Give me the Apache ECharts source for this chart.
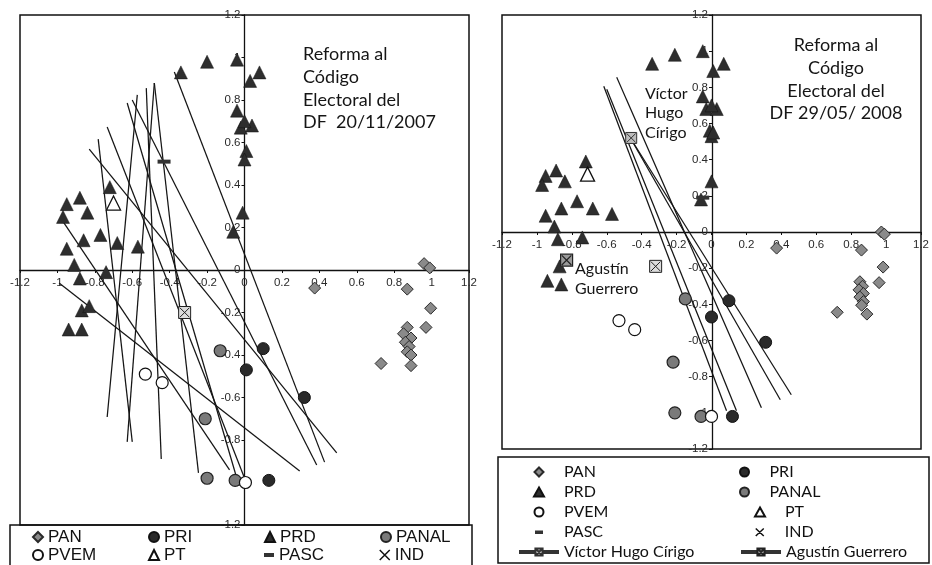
<!DOCTYPE html>
<html><head><meta charset="utf-8">
<script src="https://cdn.jsdelivr.net/npm/echarts@6/dist/echarts.min.js"></script>
<style>html,body{margin:0;padding:0;background:#fff}#c{width:932px;height:565px}</style>
</head><body><div id="c"></div>
<script>
// ---------- DATA: 20/11/2007 (left panel) ----------
const pan2007 = [[0.96,0.03],[0.99,0.01],[0.375,-0.085],[0.87,-0.09],[0.995,-0.18],[0.97,-0.27],[0.87,-0.27],[0.85,-0.30],[0.89,-0.32],[0.86,-0.34],[0.88,-0.36],[0.87,-0.385],[0.89,-0.40],[0.73,-0.44],[0.89,-0.45]];
const pri2007 = [[0.10,-0.37],[0.01,-0.47],[0.32,-0.60],[0.13,-0.99]];
const prd2007 = [[-0.34,0.93],[-0.20,0.98],[-0.04,0.99],[0.03,0.89],[0.08,0.93],[-0.04,0.75],[-0.02,0.67],[0.04,0.68],[0.0,0.70],[0.01,0.56],[0.0,0.52],[-0.01,0.27],[-0.06,0.18],[-0.95,0.31],[-0.88,0.34],[-0.84,0.27],[-0.97,0.25],[-0.72,0.39],[-0.95,0.10],[-0.86,0.14],[-0.77,0.165],[-0.68,0.127],[-0.57,0.11],[-0.91,0.024],[-0.88,-0.04],[-0.74,-0.01],[-0.87,-0.19],[-0.83,-0.17],[-0.94,-0.28],[-0.87,-0.28]];
const panal2007 = [[-0.13,-0.38],[-0.21,-0.70],[-0.20,-0.98],[-0.05,-0.99]];
const pvem2007 = [[-0.53,-0.49],[-0.44,-0.53],[0.005,-1.0]];
const pt2007 = [[-0.70,0.315]];
const pasc2007 = [[-0.43,0.51]];
const ind2007 = [[-0.32,-0.20]];
// cutting lines: [x1, y1, x2, y2]
const lines2007 = [
  [-0.375,0.932, 0.428,-0.904],
  [-0.600,0.800, 0.386,-0.918],
  [-0.627,0.786, -0.043,-0.974],
  [-0.830,0.569, 0.493,-0.861],
  [-0.734,0.673, 0.0,-0.979],
  [-0.482,0.880, -0.246,-0.955],
  [-0.525,0.856, -0.445,-0.889],
  [-0.782,0.616, -0.600,-0.809],
  [-0.734,-0.692, -0.573,0.824],
  [-0.627,-0.809, -0.482,0.880],
  [-0.991,-0.061, 0.295,-0.946],
  [-0.975,0.235, -0.080,-0.941]
];

// ---------- DATA: 29/05/2008 (right panel) ----------
const pan2008 = [[0.973,0.0],[0.99,-0.012],[0.373,-0.089],[0.859,-0.10],[0.983,-0.194],[0.96,-0.28],[0.85,-0.275],[0.865,-0.30],[0.845,-0.32],[0.87,-0.34],[0.85,-0.36],[0.87,-0.385],[0.86,-0.405],[0.72,-0.444],[0.89,-0.454]];
const pri2008 = [[0.10,-0.38],[0.0,-0.47],[0.31,-0.61],[0.12,-1.02]];
const prd2008 = [[-0.34,0.93],[-0.21,0.98],[-0.05,1.0],[0.07,0.93],[0.01,0.89],[-0.05,0.75],[-0.03,0.68],[0.03,0.68],[0.0,0.70],[-0.01,0.56],[0.0,0.53],[0.01,0.55],[0.0,0.28],[-0.06,0.18],[-0.72,0.39],[-0.89,0.34],[-0.95,0.31],[-0.97,0.26],[-0.84,0.28],[-0.77,0.17],[-0.86,0.13],[-0.68,0.13],[-0.95,0.09],[-0.57,0.10],[-0.90,0.03],[-0.88,-0.04],[-0.74,-0.03],[-0.87,-0.19],[-0.94,-0.27],[-0.86,-0.29]];
const panal2008 = [[-0.15,-0.37],[-0.22,-0.72],[-0.21,-1.0],[-0.06,-1.02]];
const pvem2008 = [[-0.53,-0.49],[-0.44,-0.54],[0.0,-1.02]];
const pt2008 = [[-0.71,0.32]];
const pasc2008 = [[-0.05,0.19]];
const ind2008 = [[-0.32,-0.19]];
const victor2008 = [[-0.46,0.52]];
const agustin2008 = [[-0.83,-0.156]];
const lines2008 = [
  [-0.617,0.806, 0.086,-0.989],
  [-0.600,0.789, 0.143,-0.989],
  [-0.543,0.856, 0.286,-0.972],
  [-0.463,0.517, 0.394,-0.928],
  [-0.463,0.517, 0.457,-0.900]
];

// ---------- labels ----------
const partyNames = ['PAN','PRI','PRD','PANAL','PVEM','PT','PASC','IND'];
const legislators = ['Víctor Hugo Círigo','Agustín Guerrero'];
const titleLeft = 'Reforma al\nCódigo\nElectoral del\nDF  20/11/2007';
const titleRight = 'Reforma al\nCódigo\nElectoral del\nDF 29/05/ 2008';
const labelVictor = 'Víctor\nHugo\nCírigo';
const labelAgustin = 'Agustín\nGuerrero';

// ---------- styles ----------
const XBOX = 'path://M0,0H10V10H0ZM1,1L9,9M9,1L1,9';
const XICON = 'path://M0,0L10,10M10,0L0,10';
const DASHICON = 'path://M0,0L0.01,0.01ZM0,3H10V7H0ZM10,10L9.99,9.99Z';
// wide-box legend icons (40 x 9 box, glyph centred) for the right legend
const PAD = 'M0,0L0.01,0.01ZM40,9L39.99,8.99Z';
const R_ICON = {
  PAN: 'path://' + PAD + 'M20,0L24.5,4.5L20,9L15.5,4.5Z',
  PRD: 'path://' + PAD + 'M20,0L25,9L15,9Z',
  PT:  'path://' + PAD + 'M20,0L25,9L15,9Z',
  PASC:'path://' + PAD + 'M16,3H24V6.5H16Z',
  IND: 'path://' + PAD + 'M16,1L24,8.5M24,1L16,8.5'
};
const sty = {
  PAN:   {symbol:'diamond',  size:12, color:'#8a8a8a', border:'#2a2a2a', bw:1},
  PRI:   {symbol:'circle',   size:12, color:'#2a2a2a', border:'#111', bw:1},
  PRD:   {symbol:'triangle', size:13, color:'#2e2e2e', border:'#111', bw:0.5},
  PANAL: {symbol:'circle',   size:12, color:'#7a7a7a', border:'#222', bw:1.2},
  PVEM:  {symbol:'circle',   size:12, color:'#ffffff', border:'#111', bw:1.2},
  PT:    {symbol:'triangle', size:14, color:'#ffffff', border:'#111', bw:1.3},
  PASC:  {symbol:'rect',     size:[13,4], color:'#333', border:'#333', bw:0},
  IND:   {symbol:XBOX,       size:12, color:'#dcdcdc', border:'#222', bw:1}
};

function scatter(name, data, gi) {
  const s = sty[name];
  return {type:'scatter', name, data, xAxisIndex:gi, yAxisIndex:gi, symbol:s.symbol, symbolSize:s.size,
    symbolKeepAspect:true,
    itemStyle:{color:s.color, borderColor:s.border, borderWidth:s.bw, opacity:1}, z:3};
}
function cut(l, gi) {
  return {type:'line', data:[[l[0],l[1]],[l[2],l[3]]], xAxisIndex:gi, yAxisIndex:gi, symbol:'none',
    lineStyle:{color:'#151515', width:1.25}, silent:true, z:2};
}

const series = [];
lines2007.forEach(l => series.push(cut(l,0)));
lines2008.forEach(l => series.push(cut(l,1)));
const sets2007 = [pan2007,pri2007,prd2007,panal2007,pvem2007,pt2007,pasc2007,ind2007];
const sets2008 = [pan2008,pri2008,prd2008,panal2008,pvem2008,pt2008,pasc2008,ind2008];
partyNames.forEach((n,i) => series.push(scatter(n, sets2007[i], 0)));
partyNames.forEach((n,i) => series.push(scatter(n, sets2008[i], 1)));
series.push({type:'line', name:legislators[0], data:victor2008, xAxisIndex:1, yAxisIndex:1, symbol:XBOX, symbolSize:11, showSymbol:true,
  lineStyle:{color:'#333', width:3.5}, itemStyle:{color:'#bdbdbd', borderColor:'#333', borderWidth:1}, z:4});
series.push({type:'line', name:legislators[1], data:agustin2008, xAxisIndex:1, yAxisIndex:1, symbol:XBOX, symbolSize:12, showSymbol:true,
  lineStyle:{color:'#333', width:3.5}, itemStyle:{color:'#9a9a9a', borderColor:'#222', borderWidth:1.2}, z:4});

function axisCommon(isX, off) {
  return {type:'value', min:-1.2, max:1.2, interval:0.2, offset:off,
    axisLine:{onZero:false, lineStyle:{color:'#111', width:1.3}},
    axisTick:{show:true, length:3, lineStyle:{color:'#111'}},
    axisLabel:{fontFamily:'Liberation Sans', fontSize:11.5, color:'#2a2a2a', margin: isX ? 7 : 4},
    splitLine:{show:false}};
}

function legendItem(n) {
  const it = {name:n};
  if (n === 'PASC') it.icon = DASHICON;
  if (n === 'IND') { it.icon = XICON; it.itemStyle = {color:'rgba(0,0,0,0)', borderColor:'#111', borderWidth:1.5}; }
  return it;
}
const leftData = partyNames.map(n => {
  const it = legendItem(n);
  if (n === 'PANAL' || n === 'IND') it.textStyle = {width:60};
  return it;
});
const rightLegendNames = partyNames.concat(legislators);
const rightData = rightLegendNames.map((n,i) => {
  const it = legendItem(n);
  if (R_ICON[n]) it.icon = R_ICON[n];
  if (legislators.indexOf(n) >= 0) it.lineStyle = {width:4, color:'#333'};
  if (i % 2 === 1) it.textStyle = {width:140};
  return it;
});

const option = {
  animation:false,
  backgroundColor:'#fff',
  grid:[
    {left:20, top:15, width:449, height:510, show:true, borderColor:'#111', borderWidth:1.5, containLabel:false},
    {left:502, top:15, width:420, height:434, show:true, borderColor:'#111', borderWidth:1.5, containLabel:false}
  ],
  xAxis:[Object.assign(axisCommon(true,-255),{gridIndex:0, position:'bottom'}), Object.assign(axisCommon(true,-217),{gridIndex:1, position:'bottom'})],
  yAxis:[Object.assign(axisCommon(false,-224.5),{gridIndex:0, position:'left'}), Object.assign(axisCommon(false,-210),{gridIndex:1, position:'left'})],
  legend:[
    {data:leftData, left:10, top:525, width:440, orient:'horizontal', symbolKeepAspect:true,
     itemWidth:10, itemHeight:10, itemGap:0, padding:[3,16,6,22], borderColor:'#111', borderWidth:1.5,
     selectedMode:false,
     textStyle:{fontFamily:'Liberation Sans', fontSize:17, color:'#111', width:100, lineHeight:18}},
    {data:rightData, left:498, top:457, width:440, orient:'horizontal', symbolKeepAspect:true,
     itemWidth:40, itemHeight:9, itemGap:0, padding:[5,3,1,19], borderColor:'#111', borderWidth:1.5,
     selectedMode:false,
     textStyle:{fontFamily:'Lato', fontSize:16, color:'#111', width:175, lineHeight:20}}
  ],
  graphic:[
    {type:'text', x:303, y:43, z:10, style:{text:titleLeft, fontFamily:'Lato', fontSize:18, lineHeight:22.7, fill:'#151515', align:'left', verticalAlign:'top'}},
    {type:'text', x:836, y:34, z:10, style:{text:titleRight, fontFamily:'Lato', fontSize:18, lineHeight:22.7, fill:'#151515', align:'center', verticalAlign:'top'}},
    {type:'text', x:645, y:84, z:10, style:{text:labelVictor, fontFamily:'Lato', fontSize:16, lineHeight:19.5, fill:'#151515', align:'left', verticalAlign:'top'}},
    {type:'text', x:575, y:259, z:10, style:{text:labelAgustin, fontFamily:'Lato', fontSize:16, lineHeight:20, fill:'#151515', align:'left', verticalAlign:'top'}}
  ],
  series
};
const chart = echarts.init(document.getElementById('c'), null, {renderer:'canvas'});
chart.setOption(option);
</script></body></html>
